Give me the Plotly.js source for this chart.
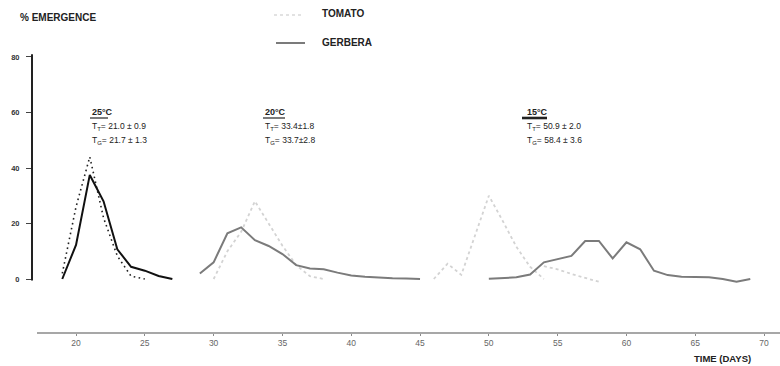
<!DOCTYPE html>
<html>
<head>
<meta charset="utf-8">
<script src="https://cdn.plot.ly/plotly-3.0.1.min.js"></script>
<style>
  html, body { margin: 0; padding: 0; background: #ffffff; }
  #chart { width: 780px; height: 366px; }
</style>
</head>
<body>
<div id="chart"></div>
<script>
// Emergence (%) over time (days) at three temperatures, tomato vs gerbera.

// 25 °C
const gerberaDays25 = [19, 20, 21, 22, 23, 24, 25, 26, 27];
const gerbera25     = [0, 12.3, 37.5, 28, 10.7, 4.4, 3, 1.1, 0];
const tomatoDays25  = [19, 20, 21, 22, 23, 24, 25];
const tomato25      = [2, 26, 44, 22, 8.3, 1, 0];

// 20 °C
const gerberaDays20 = [29, 30, 31, 32, 33, 34, 35, 36, 37, 38, 39, 40, 41, 42, 43, 44, 45];
const gerbera20     = [2, 6, 16.5, 18.6, 14, 11.9, 9, 5, 3.8, 3.5, 2.3, 1.3, 0.8, 0.5, 0.3, 0.2, 0];
const tomatoDays20  = [30, 31, 32, 33, 34, 35, 36, 37, 38];
const tomato20      = [0, 10, 17, 28, 20, 12, 5, 1, 0];

// 15 °C
const gerberaDays15 = [50, 52, 53, 54, 56, 57, 58, 59, 60, 61, 62, 63, 64, 66, 67, 68, 69];
const gerbera15     = [0.1, 0.6, 1.6, 6, 8.3, 13.7, 13.7, 7.4, 13.2, 10.7, 3, 1.4, 0.8, 0.6, 0, -1, 0];
const tomatoDays15  = [46, 47, 48, 49, 50, 51, 52, 53, 54];
const tomato15      = [0, 5.5, 1.5, 16, 30, 21, 11.6, 4.4, 0];
const tomatoTailDays15 = [54, 55, 56, 57, 58];
const tomatoTail15     = [4.6, 3.5, 1.8, 0.3, -1];

// Axis ticks
const yTicks = [0, 20, 40, 60, 80];
const xTicks = [20, 25, 30, 35, 40, 45, 50, 55, 60, 65, 70];

// Mean emergence times per temperature block
const blocks = [
  { temp: '25°C', tT: '21.0 ± 0.9', tG: '21.7 ± 1.3' },
  { temp: '20°C', tT: '33.4±1.8',   tG: '33.7±2.8' },
  { temp: '15°C', tT: '50.9 ± 2.0', tG: '58.4 ± 3.6' }
];

const FONT = 'Liberation Sans, Arial, sans-serif';
const W = 780, H = 366;
const M = { l: 32, r: 0, t: 50, b: 33 };
const PW = W - M.l - M.r, PH = H - M.t - M.b;
// pixel -> paper helpers for the free-standing labels
const fx = px => (px - M.l) / PW;
const fy = py => (H - M.b - py) / PH;

const gerberaDark = '#111111';
const gerberaGrey = '#7b7b7b';
const tomatoLight = '#d3d3d3';

function line(x, y, color, width, dash) {
  return { x, y, type: 'scatter', mode: 'lines', hoverinfo: 'skip', showlegend: false,
           line: { color, width, dash: dash || 'solid' } };
}

const traces = [
  line(tomatoDays20, tomato20, tomatoLight, 1.8, '3px,3px'),
  line(tomatoDays15, tomato15, tomatoLight, 1.8, '3px,3px'),
  line(tomatoTailDays15, tomatoTail15, tomatoLight, 1.8, '3px,3px'),
  line(tomatoDays25, tomato25, '#222222', 1.6, '1.6px,3.4px'),
  line(gerberaDays25, gerbera25, gerberaDark, 2),
  line(gerberaDays20, gerbera20, gerberaGrey, 2),
  line(gerberaDays15, gerbera15, gerberaGrey, 2)
];

const blockPos = [
  { x: 90, und: [90, 108, 1.2] },
  { x: 263, und: [263, 285, 1.2] },
  { x: 525, und: [522, 547, 2.6] }
];

const annotations = [];
const shapes = [];

blocks.forEach((b, i) => {
  const p = blockPos[i];
  annotations.push({ xref: 'paper', yref: 'paper', x: fx(p.x), y: fy(112), xanchor: 'left', yanchor: 'middle',
    text: '<b>' + b.temp + '</b>', showarrow: false, font: { family: FONT, size: 9, color: '#222' } });
  annotations.push({ xref: 'paper', yref: 'paper', x: fx(p.x), y: fy(126), xanchor: 'left', yanchor: 'middle',
    text: 'T<sub>T</sub>= ' + b.tT, showarrow: false, font: { family: FONT, size: 8.5, color: '#222' } });
  annotations.push({ xref: 'paper', yref: 'paper', x: fx(p.x), y: fy(140), xanchor: 'left', yanchor: 'middle',
    text: 'T<sub>G</sub>= ' + b.tG, showarrow: false, font: { family: FONT, size: 8.5, color: '#222' } });
  shapes.push({ type: 'line', xref: 'paper', yref: 'paper', x0: fx(p.und[0]), x1: fx(p.und[1]),
    y0: fy(118), y1: fy(118), line: { color: '#222', width: p.und[2] } });
});

annotations.push(
  { xref: 'paper', yref: 'paper', x: fx(18), y: fy(17), xanchor: 'left', yanchor: 'middle',
    text: '<b>% EMERGENCE</b>', showarrow: false, font: { family: FONT, size: 10, color: '#222' } },
  { xref: 'paper', yref: 'paper', x: fx(320), y: fy(14), xanchor: 'left', yanchor: 'middle',
    text: '<b>TOMATO</b>', showarrow: false, font: { family: FONT, size: 10, color: '#222' } },
  { xref: 'paper', yref: 'paper', x: fx(320), y: fy(42), xanchor: 'left', yanchor: 'middle',
    text: '<b>GERBERA</b>', showarrow: false, font: { family: FONT, size: 10, color: '#222' } },
  { xref: 'paper', yref: 'paper', x: fx(722), y: fy(358), xanchor: 'center', yanchor: 'middle',
    text: '<b>TIME (DAYS)</b>', showarrow: false, font: { family: FONT, size: 9.5, color: '#222' } }
);

shapes.push(
  // legend keys
  { type: 'line', xref: 'paper', yref: 'paper', x0: fx(274), x1: fx(302), y0: fy(15), y1: fy(15),
    line: { color: '#e2e2e2', width: 2, dash: '3px,3px' } },
  { type: 'line', xref: 'paper', yref: 'paper', x0: fx(276), x1: fx(305), y0: fy(43), y1: fy(43),
    line: { color: gerberaGrey, width: 2 } },
  // vertical emergence axis, drawn only over 0–80
  { type: 'line', xref: 'paper', yref: 'y', x0: 0, x1: 0, y0: -0.5, y1: 81,
    line: { color: '#222', width: 2 } },
  // time axis baseline
  { type: 'line', xref: 'paper', yref: 'paper', x0: fx(37), x1: 1, y0: 0, y1: 0,
    line: { color: '#8a8a8a', width: 1.5 } }
);

const layout = {
  width: W, height: H,
  margin: M,
  paper_bgcolor: '#ffffff', plot_bgcolor: '#ffffff',
  showlegend: false,
  xaxis: {
    range: [16.8, 71.16], tickvals: xTicks, ticktext: xTicks.map(String),
    showgrid: false, zeroline: false, showline: false,
    ticks: 'outside', ticklen: 2, tickcolor: '#8a8a8a', tickwidth: 1,
    tickfont: { family: FONT, size: 8.5, color: '#666' }
  },
  yaxis: {
    range: [-19.46, 82.52], tickvals: yTicks, ticktext: yTicks.map(String),
    showgrid: false, zeroline: false, showline: false,
    ticks: 'outside', ticklen: 5, tickcolor: '#444', tickwidth: 1,
    ticklabelstandoff: 5,
    tickfont: { family: FONT, size: 7.5, color: '#333', weight: 'bold' }
  },
  annotations, shapes
};

Plotly.newPlot('chart', traces, layout, { staticPlot: true, displayModeBar: false });
</script>
</body>
</html>
